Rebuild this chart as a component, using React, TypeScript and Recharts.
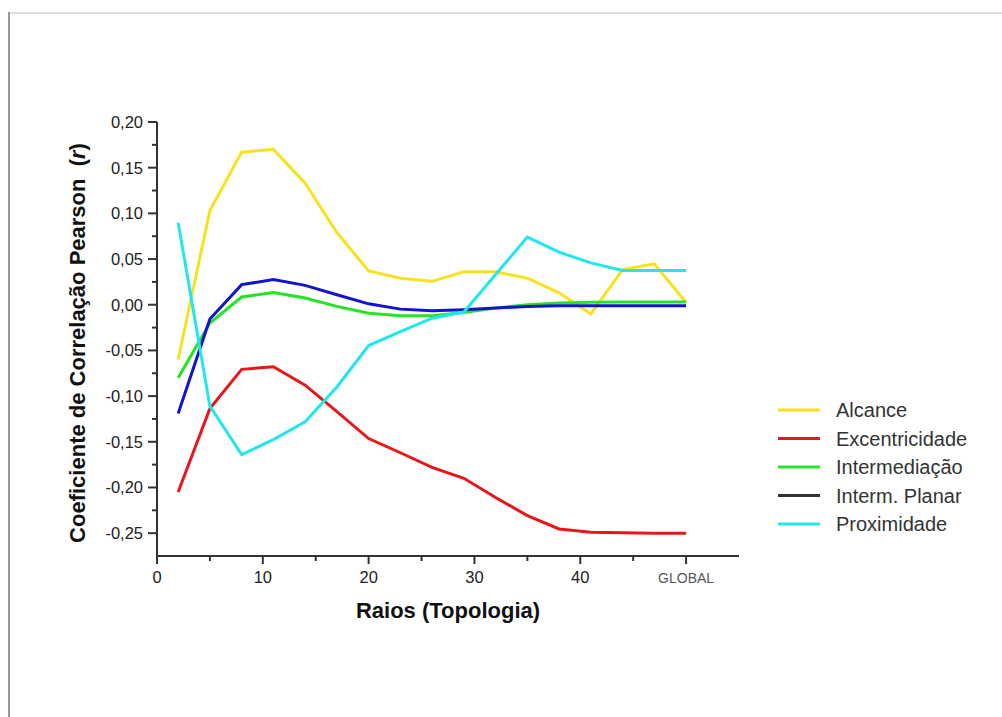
import React from "react";
import { LineChart, Line, XAxis, YAxis, Legend, Label } from "recharts";

const raios = [2, 5, 8, 11, 14, 17, 20, 23, 26, 29, 32, 35, 38, 41, 44, 47, 50];
const alcance = [-0.06, 0.103, 0.167, 0.17, 0.133, 0.079, 0.037, 0.029, 0.0256, 0.036, 0.036, 0.029, 0.013, -0.01, 0.0385, 0.0447, 0.0025];
const excentricidade = [-0.205, -0.1136, -0.0707, -0.0678, -0.088, -0.117, -0.1465, -0.162, -0.178, -0.19, -0.211, -0.2308, -0.2454, -0.249, -0.2495, -0.25, -0.25];
const intermediacao = [-0.08, -0.02, 0.0085, 0.0135, 0.0073, -0.0018, -0.0092, -0.012, -0.012, -0.0084, -0.0037, 0.0, 0.0018, 0.0026, 0.003, 0.003, 0.003];
const intermPlanar = [-0.119, -0.0157, 0.022, 0.0275, 0.0212, 0.011, 0.001, -0.0048, -0.0066, -0.0055, -0.0037, -0.0018, -0.0011, -0.0011, -0.0011, -0.0011, -0.0011];
const proximidade = [0.0897, -0.111, -0.164, -0.1476, -0.128, -0.09, -0.0447, -0.0295, -0.0147, -0.008, 0.033, 0.074, 0.0575, 0.0458, 0.0374, 0.0374, 0.0374];

const xTicks = [0, 5, 10, 15, 20, 25, 30, 35, 40, 45, 50];
const xTickLabels: Record<number, string> = { 0: "0", 10: "10", 20: "20", 30: "30", 40: "40", 50: "GLOBAL" };
const yTicks = [-0.25, -0.225, -0.2, -0.175, -0.15, -0.125, -0.1, -0.075, -0.05, -0.025, 0, 0.025, 0.05, 0.075, 0.1, 0.125, 0.15, 0.175, 0.2];

const seriesKeys = ["alcance", "excentricidade", "intermediacao", "intermPlanar", "proximidade"];
const seriesNames = ["Alcance", "Excentricidade", "Intermediação", "Interm. Planar", "Proximidade"];
const seriesColors = ["#F8E21E", "#E8161B", "#22E622", "#1414CC", "#22E6EE"];
const legendColors = ["#F8E21E", "#E8161B", "#22E622", "#333333", "#22E6EE"];

const data = raios.map((x, i) => ({
  x,
  alcance: alcance[i],
  excentricidade: excentricidade[i],
  intermediacao: intermediacao[i],
  intermPlanar: intermPlanar[i],
  proximidade: proximidade[i],
}));

const FONT = "'Liberation Sans', Arial, Helvetica, sans-serif";

const XTick = (props: any) => {
  const { x, y, payload } = props;
  const v = payload.value;
  const major = v % 10 === 0;
  const label = xTickLabels[v];
  return (
    <g>
      <line x1={x} x2={x} y1={y} y2={y + (major ? 8 : 5)} stroke="#333" strokeWidth={2} />
      {label !== undefined && (
        <text
          x={x}
          y={y + 27}
          textAnchor="middle"
          fontFamily={FONT}
          fontSize={label === "GLOBAL" ? 14 : 16.5}
          fill={label === "GLOBAL" ? "#555" : "#222"}
        >
          {label}
        </text>
      )}
    </g>
  );
};

const YTick = (props: any) => {
  const { x, y, payload } = props;
  const v = payload.value;
  const k = Math.round(v * 1000);
  const major = k % 50 === 0;
  const label = (k / 1000).toFixed(2).replace(".", ",");
  return (
    <g>
      <line x1={x - (major ? 9 : 5)} x2={x} y1={y} y2={y} stroke="#333" strokeWidth={2} />
      {major && (
        <text x={x - 14} y={y} dy="0.36em" textAnchor="end" fontFamily={FONT} fontSize={16.5} fill="#222">
          {label}
        </text>
      )}
    </g>
  );
};

const LegendContent = () => (
  <svg width={224} height={150} style={{ display: "block" }}>
    {seriesNames.map((n, i) => {
      const cy = 13 + i * 28.5;
      return (
        <g key={n}>
          <line x1={0} x2={42} y1={cy} y2={cy} stroke={legendColors[i]} strokeWidth={3} />
          <text x={58} y={cy} dy="0.36em" fontFamily={FONT} fontSize={20} fill="#333">
            {n}
          </text>
        </g>
      );
    })}
  </svg>
);

export default function App() {
  return (
    <div style={{ position: "absolute", left: 0, top: 0, width: 1002, height: 717, background: "#fff" }}>
      <div style={{ position: "absolute", left: 9, top: 12, width: 993, height: 2, background: "#dedede" }} />
      <div style={{ position: "absolute", left: 8, top: 12, width: 2, height: 705, background: "#9a9a9a" }} />
      <div style={{ position: "absolute", left: 0, top: 0 }}>
        <LineChart
          width={1002}
          height={717}
          data={data}
          margin={{ top: 122, right: 263, bottom: 131, left: 97 }}
        >
          <XAxis
            dataKey="x"
            type="number"
            domain={[0, 55]}
            ticks={xTicks}
            interval={0}
            height={30}
            tickSize={0}
            tickMargin={0}
            tickLine={false}
            axisLine={{ stroke: "#333", strokeWidth: 2 }}
            tick={<XTick />}
          >
            <Label
              content={(p: any) => {
                const vb = p.viewBox;
                return (
                  <text
                    x={vb.x + vb.width / 2}
                    y={vb.y + 62}
                    textAnchor="middle"
                    fontFamily={FONT}
                    fontWeight="bold"
                    fontSize={22}
                    fill="#111"
                  >
                    Raios (Topologia)
                  </text>
                );
              }}
            />
          </XAxis>
          <YAxis
            type="number"
            domain={[-0.275, 0.2]}
            ticks={yTicks}
            interval={0}
            width={60}
            tickSize={0}
            tickMargin={0}
            tickLine={false}
            allowDataOverflow
            axisLine={{ stroke: "#333", strokeWidth: 2 }}
            tick={<YTick />}
          >
            <Label
              content={(p: any) => {
                const vb = p.viewBox;
                const cx = vb.x - 12;
                const cy = vb.y + vb.height / 2 + 4;
                return (
                  <text
                    x={cx}
                    y={cy}
                    transform={`rotate(-90, ${cx}, ${cy})`}
                    textAnchor="middle"
                    fontFamily={FONT}
                    fontWeight="bold"
                    fontSize={22}
                    fill="#111"
                    style={{ whiteSpace: "pre" }}
                  >
                    {"Coeficiente de Correlação Pearson\u00A0\u00A0("}
                    <tspan fontStyle="italic">r</tspan>
                    {")"}
                  </text>
                );
              }}
            />
          </YAxis>
          <Legend
            layout="horizontal"
            verticalAlign="middle"
            align="center"
            content={<LegendContent />}
            wrapperStyle={{ position: "absolute", left: 778, top: 397, width: 224, height: 150 }}
          />
          {seriesKeys.map((k, i) => (
            <Line
              key={k}
              type="linear"
              dataKey={k}
              name={seriesNames[i]}
              stroke={seriesColors[i]}
              strokeWidth={3}
              dot={false}
              activeDot={false}
              isAnimationActive={false}
            />
          ))}
        </LineChart>
      </div>
    </div>
  );
}
